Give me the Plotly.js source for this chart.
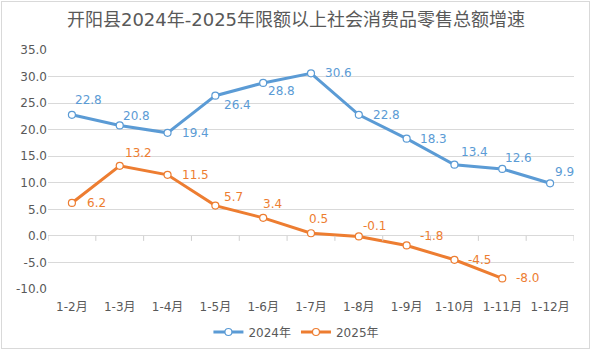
<!DOCTYPE html>
<html>
<head>
<meta charset="utf-8">
<script src="https://cdn.plot.ly/plotly-3.0.1.min.js"></script>
<style>
html,body{margin:0;padding:0;background:#fff;}
#wrap{position:relative;width:592px;height:350px;}
#chart{width:592px;height:350px;}
#frame{position:absolute;left:1px;top:1px;width:587px;height:346px;border:1px solid #d9d9d9;pointer-events:none;}
</style>
</head>
<body>
<div id="wrap"><div id="chart"></div><div id="frame"></div></div>
<script>
const categories = ["1-2月","1-3月","1-4月","1-5月","1-6月","1-7月","1-8月","1-9月","1-10月","1-11月","1-12月"];
const values2024 = [22.8, 20.8, 19.4, 26.4, 28.8, 30.6, 22.8, 18.3, 13.4, 12.6, 9.9];
const values2025 = [6.2, 13.2, 11.5, 5.7, 3.4, 0.5, -0.1, -1.8, -4.5, -8.0];
const yTicks = [-10, -5, 0, 5, 10, 15, 20, 25, 30, 35];

const FONT = "DejaVu Sans, Noto Sans CJK SC, sans-serif";
const BLUE = "#5B9BD5", ORANGE = "#ED7D31", GREY = "#595959";

// data-label placement (pixel offsets of label's left edge / vertical centre from the point)
const lblDx2024 = [1, 1, 12, 7, 3, 12, 12, 11, 5, 1, 3];
const lblDy2024 = [-15, -9, 0, 9, 8, 0, 0, 0, -13, -11, -11];
const lblDx2025 = [13, 3, 12, 7, -2, -4, 2, 11, 12, 12];
const lblDy2025 = [0, -13, 0, -9, -14, -14, -10, -9, 0, 0];

function series(name, vals, color) {
  return {
    name: name, x: categories.slice(0, vals.length), y: vals, type: "scatter", mode: "lines+markers",
    line: {color: color, width: 3},
    marker: {symbol: "circle", size: 7, color: "#ffffff", line: {color: color, width: 1.2}},
    cliponaxis: false, hoverinfo: "x+y"
  };
}
function labels(vals, dx, dy, color) {
  return vals.map((v, i) => ({
    x: categories[i], y: v, xref: "x", yref: "y", text: v.toFixed(1), showarrow: false,
    xanchor: "left", yanchor: "middle", xshift: dx[i], yshift: -dy[i],
    font: {family: FONT, size: 12, color: color}
  }));
}

const traces = [series("2024年", values2024, BLUE), series("2025年", values2025, ORANGE)];

const tickShapes = [];
for (let k = 0; k <= categories.length; k++) {
  tickShapes.push({type: "line", xref: "x", yref: "y", ysizemode: "pixel", yanchor: 0,
    x0: k - 0.5, x1: k - 0.5, y0: 0, y1: -5, line: {color: "#cfcfcf", width: 1}});
}

const layout = {
  width: 592, height: 350,
  margin: {l: 48, r: 18, t: 50, b: 61, autoexpand: false},
  paper_bgcolor: "#ffffff", plot_bgcolor: "#ffffff",
  font: {family: FONT, size: 12, color: GREY},
  title: {text: "开阳县2024年-2025年限额以上社会消费品零售总额增速", font: {family: FONT, size: 18, color: GREY}, x: 0.5, xanchor: "center", y: 0.943, yanchor: "middle"},
  showlegend: true,
  legend: {orientation: "h", x: 0.305, xanchor: "left", y: -0.18, yanchor: "middle", font: {family: FONT, size: 12, color: GREY}, itemwidth: 30, tracegroupgap: 0},
  xaxis: {
    type: "category", categoryorder: "array", categoryarray: categories,
    range: [-0.5, categories.length - 0.5],
    showgrid: false, zeroline: false, showline: false,
    ticks: "outside", ticklen: 7, tickcolor: "rgba(0,0,0,0)",
    tickfont: {family: FONT, size: 12, color: GREY}, fixedrange: true
  },
  yaxis: {
    range: [-10, 35], tickvals: yTicks, ticktext: yTicks.map(v => v.toFixed(1)),
    showgrid: true, gridcolor: "#d9d9d9", gridwidth: 1,
    zeroline: true, zerolinecolor: "#d9d9d9", zerolinewidth: 1,
    showline: false, ticks: "", tickfont: {family: FONT, size: 12, color: GREY}, fixedrange: true
  },
  shapes: tickShapes,
  annotations: labels(values2024, lblDx2024, lblDy2024, BLUE).concat(labels(values2025, lblDx2025, lblDy2025, ORANGE))
};

Plotly.newPlot("chart", traces, layout, {displayModeBar: false, staticPlot: true});
</script>
</body>
</html>
